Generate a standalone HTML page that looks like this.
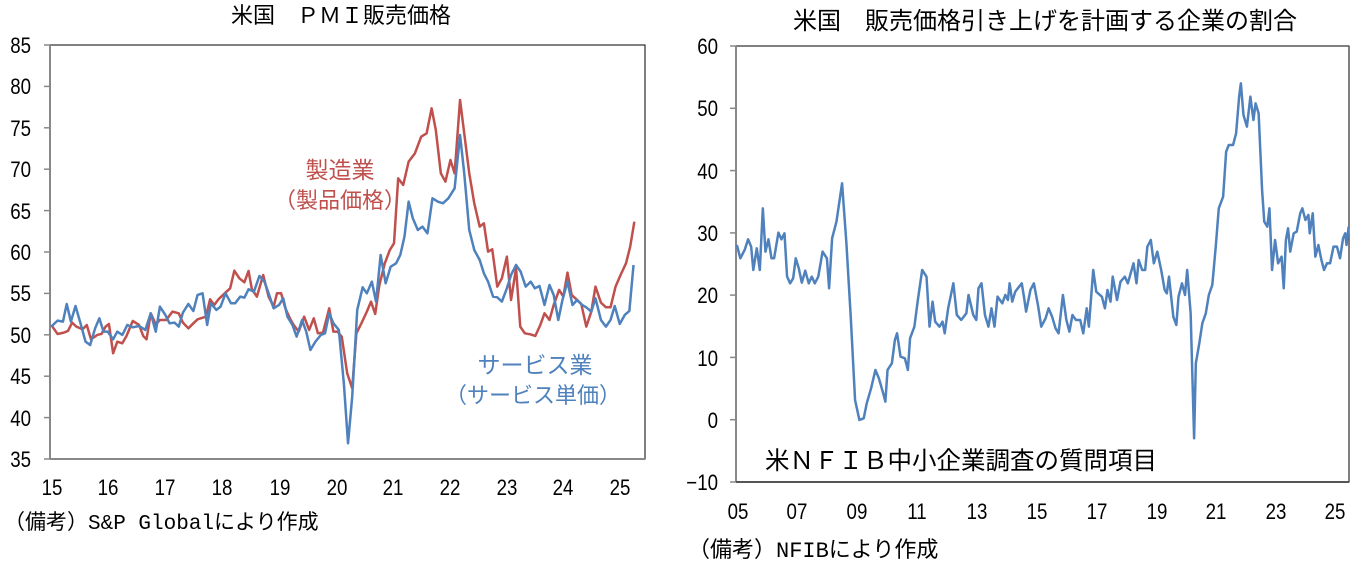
<!DOCTYPE html>
<html><head><meta charset="utf-8"><style>
body{margin:0;background:#fff;width:1359px;height:565px;overflow:hidden}
svg{display:block}
text{font-family:"Liberation Sans","Noto Sans CJK JP",sans-serif;fill:#000}
.m{font-family:"Liberation Mono","Noto Sans CJK JP",monospace}
</style></head><body>
<svg width="1359" height="565" viewBox="0 0 1359 565">
<rect width="1359" height="565" fill="#fff"/>
<text x="341" y="23" font-size="22" text-anchor="middle">米国　ＰＭＩ販売価格</text>
<text x="1045" y="29" font-size="24" text-anchor="middle">米国　販売価格引き上げを計画する企業の割合</text>
<!-- left frame -->
<rect x="50" y="45" width="595" height="414" fill="none" stroke="#000" stroke-width="1"/>
<line x1="50" y1="45" x2="50" y2="459" stroke="#888" stroke-width="2"/>
<line x1="50" y1="459" x2="645" y2="459" stroke="#888" stroke-width="2"/>
<g stroke="#888" stroke-width="1.5">
<line x1="44" y1="45" x2="50" y2="45"/><line x1="44" y1="86.4" x2="50" y2="86.4"/><line x1="44" y1="127.8" x2="50" y2="127.8"/><line x1="44" y1="169.2" x2="50" y2="169.2"/><line x1="44" y1="210.6" x2="50" y2="210.6"/><line x1="44" y1="252" x2="50" y2="252"/><line x1="44" y1="293.4" x2="50" y2="293.4"/><line x1="44" y1="334.8" x2="50" y2="334.8"/><line x1="44" y1="376.2" x2="50" y2="376.2"/><line x1="44" y1="417.6" x2="50" y2="417.6"/><line x1="44" y1="459" x2="50" y2="459"/>
</g>
<g font-size="22" text-anchor="end" transform="translate(31,0) scale(0.85,1)">
<text x="0" y="53">85</text><text x="0" y="94">80</text><text x="0" y="136">75</text><text x="0" y="177">70</text><text x="0" y="219">65</text><text x="0" y="260">60</text><text x="0" y="301">55</text><text x="0" y="343">50</text><text x="0" y="384">45</text><text x="0" y="426">40</text><text x="0" y="467">35</text>
</g>
<g font-size="22" text-anchor="middle" transform="scale(0.85,1)">
<text x="61.2" y="495">15</text><text x="127.1" y="495">16</text><text x="194.1" y="495">17</text><text x="261.2" y="495">18</text><text x="329.4" y="495">19</text><text x="396.5" y="495">20</text><text x="462.4" y="495">21</text><text x="529.4" y="495">22</text><text x="596.5" y="495">23</text><text x="662.4" y="495">24</text><text x="729.4" y="495">25</text>
</g>
<g transform="translate(1.09,30) scale(0.418,0.3333)" fill="none" stroke-width="2.5" stroke-linejoin="round">
<polyline vector-effect="non-scaling-stroke" stroke="#c0504d" points="120,885 135,912 150,908 160,903 170,878 180,890 195,898 205,885 215,928 230,915 240,912 250,890 258,882 268,970 278,935 290,940 300,918 315,873 330,885 340,918 348,928 358,850 370,883 380,870 395,870 410,845 425,850 435,878 448,895 460,880 470,868 490,860 500,808 510,825 520,808 535,790 548,775 558,722 570,745 582,757 592,723 600,778 612,800 627,735 640,800 652,830 660,790 670,790 680,835 692,868 700,885 712,905 725,860 737,900 748,865 758,910 770,908 785,835 795,905 805,905 815,920 828,1030 840,1075 850,910 862,880 875,845 885,815 895,852 905,765 918,700 930,660 940,640 950,445 962,465 975,395 990,370 1005,320 1018,310 1030,235 1040,300 1052,430 1063,455 1075,390 1085,430 1098,210 1110,330 1120,430 1132,520 1145,590 1155,580 1165,665 1175,658 1187,770 1198,745 1210,680 1220,810 1232,715 1242,890 1253,910 1266,913 1278,918 1290,885 1300,850 1312,870 1322,825 1335,780 1345,800 1355,728 1365,795 1378,810 1388,822 1400,890 1412,845 1422,770 1435,818 1447,832 1458,832 1470,770 1482,735 1495,700 1505,650 1515,575"/>
<polyline vector-effect="non-scaling-stroke" stroke="#4f81bd" points="120,890 135,872 148,875 157,822 167,875 178,828 190,880 202,935 213,945 225,895 235,865 245,905 255,905 268,928 278,905 290,915 302,885 315,892 330,888 345,900 358,850 370,905 380,830 393,855 403,880 415,878 425,890 435,848 448,822 460,843 470,795 482,790 493,885 502,820 515,840 525,830 537,790 550,820 560,820 572,800 582,803 592,778 605,785 618,738 630,755 640,790 652,835 665,825 675,805 685,860 697,885 707,920 720,870 730,905 740,960 752,935 765,915 775,910 785,850 795,880 808,900 820,1060 830,1240 840,1100 852,840 865,772 875,790 887,755 897,815 908,675 920,760 932,710 945,700 955,675 965,620 975,515 985,565 997,600 1008,590 1020,610 1032,505 1045,515 1057,520 1070,505 1085,475 1098,315 1108,430 1120,600 1132,660 1145,690 1155,730 1165,755 1177,800 1187,802 1198,815 1210,775 1220,735 1232,705 1243,725 1255,770 1267,755 1277,775 1288,768 1300,825 1312,765 1322,795 1333,870 1343,810 1355,755 1367,825 1378,810 1390,825 1400,832 1412,845 1422,805 1435,870 1447,890 1458,870 1468,828 1480,882 1492,855 1503,843 1513,705"/>
</g>
<text x="340" y="178" font-size="23" text-anchor="middle" style="fill:#c0504d">製造業</text>
<text x="340" y="208" font-size="22" text-anchor="middle" style="fill:#c0504d">（製品価格）</text>
<text x="535" y="373" font-size="23" text-anchor="middle" style="fill:#4f81bd">サービス業</text>
<text x="533" y="403" font-size="22" text-anchor="middle" style="fill:#4f81bd">（サービス単価）</text>
<text class="m" x="4" y="529" font-size="21">（備考）S&amp;P Globalにより作成</text>

<!-- right frame -->
<rect x="736" y="46" width="613" height="436" fill="none" stroke="#000" stroke-width="1"/>
<line x1="736" y1="46" x2="736" y2="482" stroke="#888" stroke-width="2"/>
<line x1="736" y1="482" x2="1349" y2="482" stroke="#555" stroke-width="2"/>
<line x1="1349" y1="46" x2="1349" y2="482" stroke="#555" stroke-width="1.5"/>
<g stroke="#888" stroke-width="1.5">
<line x1="730" y1="46" x2="736" y2="46"/><line x1="730" y1="108.3" x2="736" y2="108.3"/><line x1="730" y1="170.6" x2="736" y2="170.6"/><line x1="730" y1="232.9" x2="736" y2="232.9"/><line x1="730" y1="295.1" x2="736" y2="295.1"/><line x1="730" y1="357.4" x2="736" y2="357.4"/><line x1="730" y1="419.7" x2="736" y2="419.7"/><line x1="730" y1="482" x2="736" y2="482"/>
</g>
<g font-size="22" text-anchor="end" transform="translate(718,0) scale(0.85,1)">
<text x="0" y="54">60</text><text x="0" y="116">50</text><text x="0" y="179">40</text><text x="0" y="241">30</text><text x="0" y="303">20</text><text x="0" y="366">10</text><text x="0" y="428">0</text><text x="0" y="490">−10</text>
</g>
<g font-size="22" text-anchor="middle" transform="scale(0.85,1)">
<text x="868.2" y="519">05</text><text x="937.6" y="519">07</text><text x="1008.2" y="519">09</text><text x="1078.8" y="519">11</text><text x="1149.4" y="519">13</text><text x="1220" y="519">15</text><text x="1290.6" y="519">17</text><text x="1361.2" y="519">19</text><text x="1430.6" y="519">21</text><text x="1501.2" y="519">23</text><text x="1570.6" y="519">25</text>
</g>
<g transform="translate(679.7,30) scale(0.433,0.3333)" fill="none" stroke-width="2.5" stroke-linejoin="round">
<polyline vector-effect="non-scaling-stroke" stroke="#4f81bd" points="132,645 140,685 150,660 158,628 165,650 170,720 178,655 185,720 192,535 198,665 205,628 212,685 218,685 228,608 235,628 242,610 248,740 255,760 262,745 268,685 275,715 282,758 290,722 298,760 305,740 312,760 320,740 330,665 340,685 345,775 352,625 362,575 375,460 385,640 395,860 405,1110 415,1170 425,1165 432,1120 442,1075 452,1020 460,1045 470,1090 475,1115 480,1020 490,1000 497,930 502,910 510,980 520,985 527,1020 532,925 542,890 550,810 560,720 570,740 577,890 584,815 590,875 600,890 607,875 612,910 620,835 632,760 640,855 650,870 662,850 667,795 678,855 685,870 690,775 697,760 705,855 713,890 720,835 727,890 734,800 745,820 752,795 758,810 762,760 768,815 775,785 790,760 795,800 800,845 810,780 818,760 828,830 835,890 845,865 852,835 860,860 868,895 875,910 885,795 893,870 900,905 907,855 915,870 925,870 932,910 940,835 945,890 955,720 962,785 975,800 982,835 988,780 995,815 1000,740 1010,810 1018,755 1028,740 1035,760 1048,700 1055,760 1060,690 1068,720 1075,720 1080,650 1088,630 1095,700 1103,665 1112,720 1120,780 1125,790 1130,740 1140,860 1147,885 1152,800 1160,760 1167,795 1172,720 1180,850 1188,1225 1192,1000 1200,940 1207,880 1215,850 1222,795 1230,765 1238,650 1245,535 1255,500 1262,365 1268,345 1278,345 1285,310 1292,200 1296,160 1302,255 1310,290 1318,200 1325,270 1330,220 1337,250 1345,480 1350,575 1357,590 1362,535 1368,720 1375,630 1382,700 1390,680 1395,775 1400,630 1405,595 1410,665 1418,610 1425,605 1433,550 1438,535 1445,570 1452,555 1455,610 1462,550 1468,680 1475,645 1482,690 1488,720 1495,700 1502,700 1510,650 1518,650 1525,685 1532,625 1537,610 1540,645 1545,590"/>
</g>
<text x="765" y="469" font-size="24.5">米ＮＦＩＢ中小企業調査の質問項目</text>
<text class="m" x="688" y="557" font-size="22">（備考）NFIBにより作成</text>
</svg>
</body></html>
